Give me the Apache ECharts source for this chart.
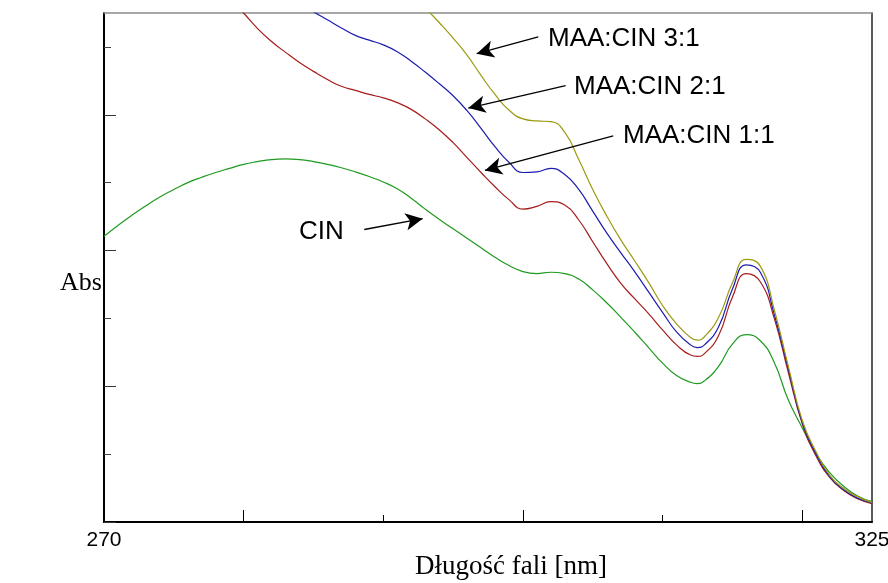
<!DOCTYPE html>
<html>
<head>
<meta charset="utf-8">
<script src="https://cdn.jsdelivr.net/npm/echarts@6/dist/echarts.min.js"></script>
<style>html,body{margin:0;padding:0;background:#fff}#c{width:888px;height:583px}</style>
</head>
<body>
<div id="c"></div>
<script>
// Wavelength (nm)
const wavelengths = [270,271,272,273,274,275,276,277,278,279,280,281,282,283,284,285,286,287,288,289,290,291,292,293,294,295,296,297,298,299,300,301,302,303,304,305,306,307,308,309,310,311,312,312.5,313,314,315,316,317,318,319,320,321,322,323,324,325];
// Absorbance (arbitrary units)
const cin = [0.421,0.437,0.452,0.466,0.479,0.490,0.500,0.508,0.515,0.521,0.527,0.531,0.534,0.535,0.534,0.531,0.527,0.522,0.516,0.509,0.501,0.491,0.477,0.461,0.446,0.432,0.418,0.404,0.390,0.378,0.369,0.366,0.368,0.366,0.358,0.342,0.323,0.302,0.280,0.257,0.234,0.216,0.206,0.204,0.208,0.229,0.262,0.276,0.267,0.235,0.180,0.139,0.100,0.072,0.052,0.038,0.030];
const maaCin11 = [1.006,0.976,0.947,0.919,0.892,0.867,0.844,0.820,0.796,0.773,0.750,0.727,0.708,0.692,0.677,0.664,0.652,0.642,0.636,0.630,0.625,0.618,0.608,0.594,0.578,0.559,0.537,0.515,0.494,0.475,0.461,0.465,0.472,0.467,0.445,0.413,0.381,0.352,0.329,0.307,0.283,0.261,0.246,0.244,0.248,0.274,0.331,0.366,0.354,0.300,0.221,0.145,0.097,0.065,0.046,0.034,0.027];
const maaCin21 = [1.060,1.033,1.007,0.982,0.958,0.935,0.913,0.892,0.872,0.853,0.835,0.817,0.799,0.782,0.766,0.752,0.740,0.728,0.717,0.710,0.703,0.693,0.679,0.663,0.646,0.628,0.606,0.580,0.553,0.530,0.515,0.516,0.521,0.512,0.490,0.458,0.426,0.397,0.369,0.339,0.309,0.280,0.261,0.257,0.261,0.287,0.343,0.379,0.368,0.306,0.226,0.147,0.100,0.066,0.047,0.035,0.028];
const maaCin31 = [1.463,1.425,1.386,1.350,1.313,1.277,1.242,1.208,1.174,1.142,1.109,1.078,1.047,1.018,0.988,0.960,0.932,0.906,0.879,0.854,0.829,0.805,0.782,0.758,0.736,0.713,0.688,0.658,0.630,0.607,0.594,0.591,0.590,0.574,0.534,0.490,0.451,0.416,0.385,0.353,0.319,0.292,0.272,0.268,0.273,0.301,0.352,0.387,0.377,0.313,0.230,0.150,0.103,0.068,0.049,0.037,0.029];
// Tick positions
const xLabelValues = [270, 325];
const xMajorTicks = [280, 300, 320];
const xMinorTicks = [290, 310];
const yMajorTicks = [0, 0.2, 0.4, 0.6];
const yMinorTicks = [0.1, 0.3, 0.5, 0.7];
// Annotation arrows: [tail, tip] in data coords
const arrowLabels = ['MAA:CIN 3:1', 'MAA:CIN 2:1', 'MAA:CIN 1:1', 'CIN'];
const arrowTails = [[301.10, 0.715], [303.06, 0.643], [306.47, 0.569], [288.64, 0.431]];
const arrowTips = [[296.69, 0.690], [296.09, 0.610], [297.28, 0.518], [292.82, 0.447]];

const pairs = arr => wavelengths.map((w, i) => [w, arr[i]]);
const chart = echarts.init(document.getElementById('c'), null, {renderer: 'canvas'});
const sans = 'Liberation Sans, Arial, sans-serif';
const serif = 'Liberation Serif, Times New Roman, serif';

function lineSeries(name, arr, color) {
  return {name, type: 'line', data: pairs(arr), showSymbol: false, smooth: 0.5,
    lineStyle: {color, width: 1.2}, itemStyle: {color}, clip: true, z: 3};
}
function hiddenAxisBase(extra) {
  return Object.assign({axisLabel: {show: false}, splitLine: {show: false}}, extra);
}

const option = {
  animation: false,
  backgroundColor: '#fff',
  grid: {left: 104, right: 16, top: 13, bottom: 61, containLabel: false, outerBoundsMode: 'none'},
  xAxis: [
    {type: 'value', min: 270, max: 325, position: 'bottom',
      axisLine: {show: true, onZero: false, lineStyle: {color: '#000', width: 2}},
      axisTick: {show: true, inside: true, length: 12, customValues: xMajorTicks, lineStyle: {color: '#000', width: 1}},
      axisLabel: {show: true, customValues: xLabelValues, fontSize: 21, fontFamily: sans, color: '#000', margin: 8},
      splitLine: {show: false}},
    hiddenAxisBase({type: 'value', min: 270, max: 325, position: 'bottom', offset: 0,
      axisLine: {show: false, onZero: false},
      axisTick: {show: true, inside: true, length: 7, customValues: xMinorTicks, lineStyle: {color: '#000', width: 1}}}),
    hiddenAxisBase({type: 'value', min: 270, max: 325, position: 'top', offset: 0,
      axisLine: {show: true, onZero: false, lineStyle: {color: '#8a8a8a', width: 1.5}},
      axisTick: {show: false}})
  ],
  yAxis: [
    hiddenAxisBase({type: 'value', min: 0, max: 0.75, position: 'left',
      axisLine: {show: true, onZero: false, lineStyle: {color: '#000', width: 2}},
      axisTick: {show: true, inside: true, length: 12, customValues: yMajorTicks, lineStyle: {color: '#333', width: 1}}}),
    hiddenAxisBase({type: 'value', min: 0, max: 0.75, position: 'left', offset: 0,
      axisLine: {show: false, onZero: false},
      axisTick: {show: true, inside: true, length: 7, customValues: yMinorTicks, lineStyle: {color: '#444', width: 1}}}),
    hiddenAxisBase({type: 'value', min: 0, max: 0.75, position: 'right', offset: 0,
      axisLine: {show: true, onZero: false, lineStyle: {color: '#222', width: 1.5}},
      axisTick: {show: false}})
  ],
  series: [
    lineSeries('CIN', cin, '#1f9a1f'),
    lineSeries('MAA:CIN 1:1', maaCin11, '#a61c1c'),
    lineSeries('MAA:CIN 2:1', maaCin21, '#1c1cb0'),
    lineSeries('MAA:CIN 3:1', maaCin31, '#9c9a12'),
    {type: 'line', name: 'arrows', data: [], silent: true,
      markLine: {silent: true, symbol: ['none', 'arrow'], symbolSize: [13, 17], animation: false,
        label: {show: false},
        lineStyle: {color: '#000', width: 1.3, type: 'solid'},
        data: arrowTails.map((t, i) => [{coord: t}, {coord: arrowTips[i]}])}}
  ],
  graphic: [
    {type: 'text', left: 548, top: 26, style: {text: arrowLabels[0], font: '26px ' + sans, fill: '#000'}},
    {type: 'text', left: 574, top: 74, style: {text: arrowLabels[1], font: '26px ' + sans, fill: '#000'}},
    {type: 'text', left: 623, top: 123, style: {text: arrowLabels[2], font: '26px ' + sans, fill: '#000'}},
    {type: 'text', left: 299, top: 219, style: {text: arrowLabels[3], font: '26px ' + sans, fill: '#000'}},
    {type: 'text', left: 415, top: 553, style: {text: 'Długość fali [nm]', font: '27px ' + serif, fill: '#000'}},
    {type: 'text', left: 60, top: 270, style: {text: 'Abs', font: '26px ' + serif, fill: '#000'}}
  ]
};
chart.setOption(option);
</script>
</body>
</html>
